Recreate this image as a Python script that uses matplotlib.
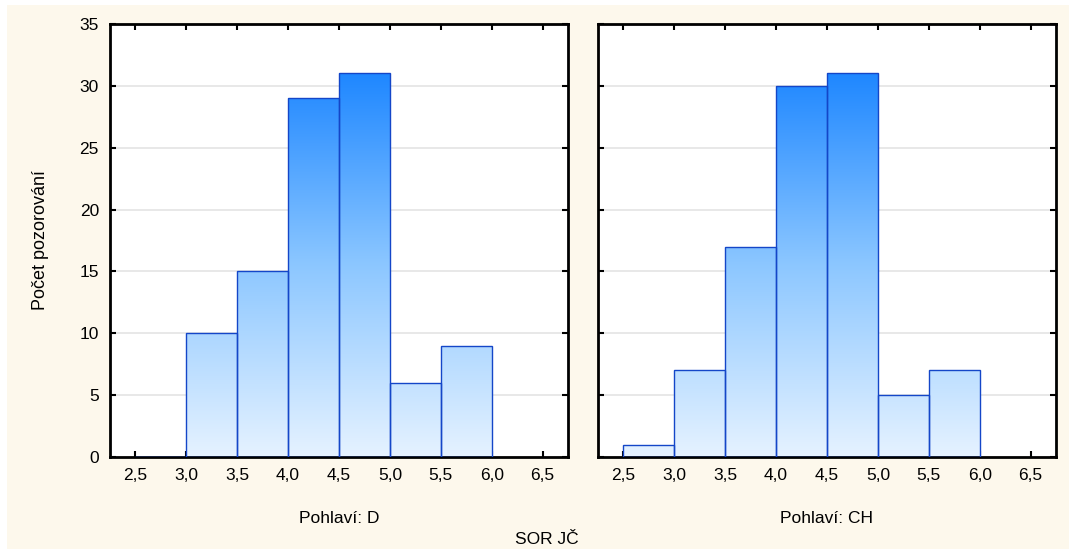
import numpy as np
import matplotlib
matplotlib.use("Agg")
import matplotlib.pyplot as plt
from matplotlib.colors import LinearSegmentedColormap
from matplotlib.patches import Rectangle

# histogram bins (left edges) and counts per group
bin_left = [2.5, 3.0, 3.5, 4.0, 4.5, 5.0, 5.5]
bin_width = 0.5
counts_d = [0, 10, 15, 29, 31, 6, 9]
counts_ch = [1, 7, 17, 30, 31, 5, 7]
group_labels = ["Pohlaví: D", "Pohlaví: CH"]
x_ticks = [2.5, 3.0, 3.5, 4.0, 4.5, 5.0, 5.5, 6.0, 6.5]
y_ticks = [0, 5, 10, 15, 20, 25, 30, 35]

plt.rcParams['font.family'] = ['Liberation Sans', 'DejaVu Sans']

BG = "#fdf8ec"
EDGE = "#1446c8"
grad = LinearSegmentedColormap.from_list(
    "bluegrad", [(0.90, 0.95, 1.0), (0.55, 0.78, 1.0), (0.12, 0.53, 1.0)])

fig = plt.figure(figsize=(10.69, 5.49), dpi=100, facecolor="white")
fig.patches.append(Rectangle((7 / 1069, 0), 1, 1 - 5 / 549, transform=fig.transFigure,
                             facecolor=BG, edgecolor="none", zorder=-10))

ymax_all = max(max(counts_d), max(counts_ch))
positions = [[110 / 1069, 1 - 457 / 549, 458 / 1069, 433 / 549],
             [598 / 1069, 1 - 457 / 549, 458 / 1069, 433 / 549]]

for i, (counts, label) in enumerate(zip([counts_d, counts_ch], group_labels)):
    ax = fig.add_axes(positions[i])
    ax.set_facecolor("white")
    for y in y_ticks[1:-1]:
        ax.axhline(y, color="#e4e4e4", lw=1.2, zorder=0)

    bars = ax.bar(bin_left, counts, width=bin_width, align="edge",
                  facecolor="none", edgecolor=EDGE, linewidth=1.0, zorder=3)
    g = np.linspace(0, 1, 256).reshape(-1, 1)
    for b in bars:
        if b.get_height() <= 0:
            continue
        im = ax.imshow(g, cmap=grad, origin="lower", aspect="auto",
                       extent=[2.25, 6.75, 0, ymax_all], zorder=2,
                       interpolation="bilinear")
        im.set_clip_path(b)
    ax.set_xlim(2.25, 6.75)
    ax.set_ylim(0, 35)

    ax.set_xticks(x_ticks)
    ax.set_xticklabels([f"{t:.1f}".replace(".", ",") for t in x_ticks])
    ax.set_yticks(y_ticks)
    ax.tick_params(axis="both", direction="in", length=4, width=1.5,
                   labelsize=12.5, top=True, right=True, pad=8)
    if i == 0:
        ax.set_yticklabels([str(t) for t in y_ticks])
        ax.set_ylabel("Počet pozorování", fontsize=13, labelpad=22)
    else:
        ax.set_yticklabels([])
    for s in ax.spines.values():
        s.set_linewidth(2)
        s.set_color("black")
    ax.set_xlabel(label, fontsize=12.5, labelpad=20)

fig.text(547 / 1069, 1 - 540 / 549, "SOR JČ", ha="center", va="center", fontsize=12.5)

fig.savefig("out.png", dpi=100, facecolor=fig.get_facecolor())
